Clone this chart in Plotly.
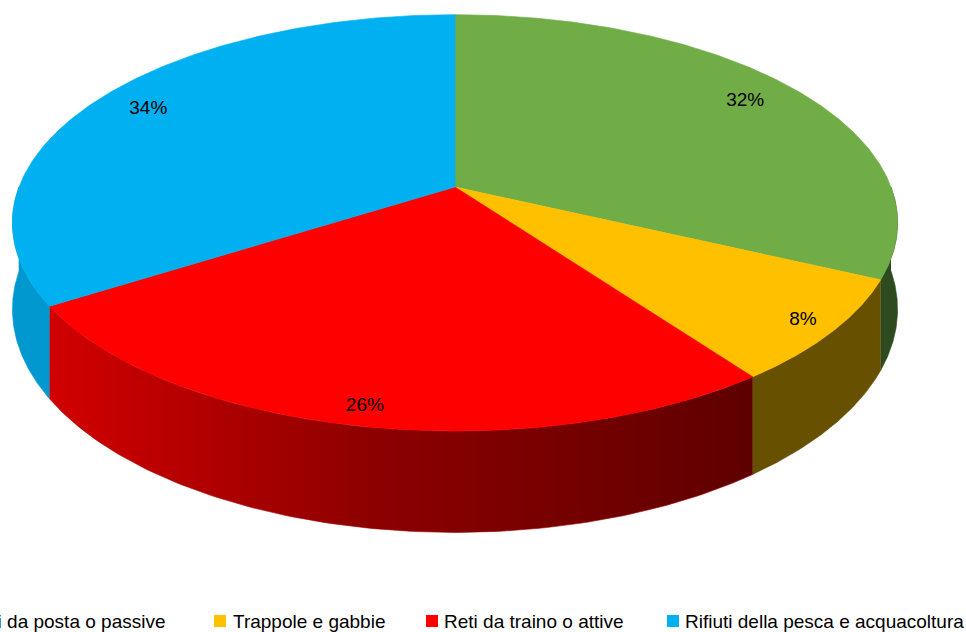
import numpy as np
import plotly.graph_objects as go

# ---- data ----
categories = ["Reti da posta o passive", "Trappole e gabbie",
              "Reti da traino o attive", "Rifiuti della pesca e acquacoltura"]
values = [32, 8, 26, 34]
top_colors = ["#70AD47", "#FFC000", "#FF0000", "#00B0F0"]
side_colors = ["#2E4B1F", "#675000", "#A00000", "#0098CE"]
label_r = [0.85, 0.93, 0.93, 0.86]

# ---- geometry (screen-pixel layout of the 3-D pie) ----
W, H = 966, 632
CX, CY = 455, 187        # projected centre
A, B = 436, 202          # radii
P = 0.172                # perspective factor
DEPTH = 84               # thickness

def proj(theta_deg, r=1.0):
    t = np.radians(theta_deg)
    u = r * np.sin(t)
    v = r * np.cos(t)
    w = 1 + P * v
    return CX + A * u / w, CY - B * v / w, w

total = float(sum(values))
fracs = [v / total for v in values]
starts = np.cumsum([0] + fracs[:-1]) * 360
ends = np.cumsum(fracs) * 360

fig = go.Figure()

# sides (front half only)
for i in range(len(values)):
    a0 = max(starts[i], 90.0)
    a1 = min(ends[i], 270.0)
    if a1 <= a0:
        continue
    th = np.linspace(a0, a1, 120)
    x, y, w = proj(th)
    yb = y + DEPTH / w
    xs = np.concatenate([x, x[::-1]])
    ys = np.concatenate([y, yb[::-1]])
    kw = dict(fillcolor=side_colors[i])
    if i == 2:
        kw = dict(fillgradient=dict(type="horizontal",
                                    colorscale=[[0, "#D20000"], [0.45, "#8E0000"], [1, "#5E0000"]],
                                    start=float(x.min()), stop=float(x.max())))
    fig.add_trace(go.Scatter(x=xs, y=ys, mode="lines", fill="toself",
                             line=dict(width=0.6, color=side_colors[i]),
                             hoverinfo="skip", showlegend=False, **kw))

# top faces
for i in range(len(values)):
    th = np.linspace(starts[i], ends[i], 200)
    x, y, _ = proj(th)
    xs = np.concatenate([[CX], x, [CX]])
    ys = np.concatenate([[CY], y, [CY]])
    fig.add_trace(go.Scatter(x=xs, y=ys, mode="lines", fill="toself",
                             fillcolor=top_colors[i],
                             line=dict(width=0.6, color=top_colors[i]),
                             hoverinfo="skip", showlegend=False))

# percentage labels
mids = (starts + ends) / 2
lx, ly, _ = proj(mids, np.array(label_r))
fig.add_trace(go.Scatter(x=lx, y=ly, mode="text",
                         text=[f"{v:.0f}%" for v in values],
                         textfont=dict(family="Liberation Sans", size=19, color="#000000"),
                         hoverinfo="skip", showlegend=False))

# legend (manual, bottom)
leg_marker_x = [-32, 220, 432, 673]
leg_text_x = [168, 231, 442, 683]
leg_y = 621
fig.add_trace(go.Scatter(x=leg_marker_x, y=[leg_y] * 4, mode="markers",
                         marker=dict(symbol="square", size=12, color=top_colors),
                         hoverinfo="skip", showlegend=False))
for i, name in enumerate(categories):
    fig.add_annotation(x=leg_text_x[i], y=leg_y, xref="x", yref="y", text=name,
                       showarrow=False, xanchor="right" if i == 0 else "left",
                       yanchor="middle",
                       font=dict(family="Liberation Sans", size=19, color="#000000"))

fig.update_layout(
    width=W, height=H, margin=dict(l=0, r=0, t=0, b=0),
    paper_bgcolor="white", plot_bgcolor="white",
    xaxis=dict(range=[0, W], visible=False, fixedrange=True),
    yaxis=dict(range=[H, 0], visible=False, fixedrange=True),
    showlegend=False,
)
fig.write_html("out.html")
